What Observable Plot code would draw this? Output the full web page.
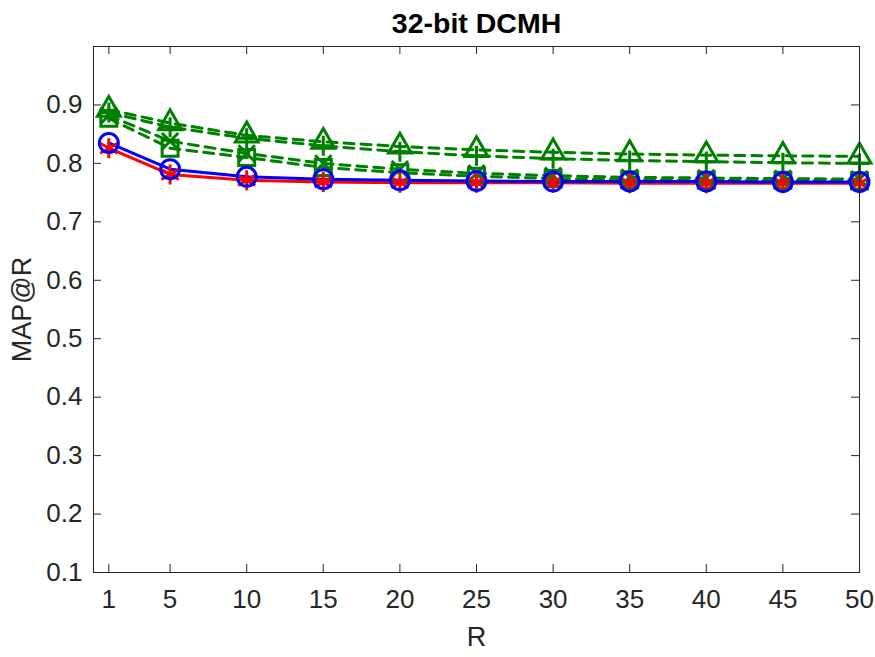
<!DOCTYPE html>
<html>
<head>
<meta charset="utf-8">
<script src="https://cdn.jsdelivr.net/npm/d3@7"></script>
<script src="https://cdn.jsdelivr.net/npm/@observablehq/plot@0.6"></script>
<style>
  html, body { margin: 0; padding: 0; background: #fff; }
</style>
</head>
<body>
<div id="chart"></div>
<script>
const title = "32-bit DCMH";
const xLabel = "R";
const yLabel = "MAP@R";
const R = [1, 5, 10, 15, 20, 25, 30, 35, 40, 45, 50];
const xTicks = [1, 5, 10, 15, 20, 25, 30, 35, 40, 45, 50];
const yTicks = [0.1, 0.2, 0.3, 0.4, 0.5, 0.6, 0.7, 0.8, 0.9];

const redStar    = [0.826, 0.781, 0.771, 0.768, 0.767, 0.767, 0.767, 0.766, 0.766, 0.766, 0.766];
const blueCircle = [0.835, 0.790, 0.777, 0.773, 0.771, 0.770, 0.769, 0.769, 0.769, 0.768, 0.768];
const greenTri   = [0.892, 0.869, 0.848, 0.837, 0.829, 0.823, 0.819, 0.816, 0.814, 0.813, 0.812];
const greenPlus  = [0.887, 0.862, 0.843, 0.830, 0.820, 0.813, 0.808, 0.805, 0.803, 0.801, 0.800];
const greenTimes = [0.882, 0.838, 0.817, 0.800, 0.790, 0.783, 0.779, 0.776, 0.775, 0.774, 0.773];
const greenSq    = [0.877, 0.826, 0.810, 0.793, 0.784, 0.778, 0.774, 0.772, 0.771, 0.771, 0.770];

const series = [
  {key: "sq",    values: greenSq,    color: "#008000", symbol: "square",   r: 9,   dash: "10,7"},
  {key: "times", values: greenTimes, color: "#008000", symbol: "times",    r: 7.5, dash: "10,7"},
  {key: "plus",  values: greenPlus,  color: "#008000", symbol: "plus",     r: 6.5, dash: "10,7"},
  {key: "tri",   values: greenTri,   color: "#008000", symbol: "triangle", r: 8.5, dash: "10,7"},
  {key: "red",   values: redStar,    color: "#ff0000", symbol: "asterisk", r: 9.5, dash: null},
  {key: "blue",  values: blueCircle, color: "#0000ff", symbol: "circle",   r: 9.5, dash: null}
];

const marks = [];
// inside ticks
marks.push(Plot.ruleX(xTicks, {x: d => d, stroke: "#262626", strokeWidth: 1, insetTop: 518}));
marks.push(Plot.ruleX(xTicks, {x: d => d, stroke: "#262626", strokeWidth: 1, insetBottom: 518}));
marks.push(Plot.ruleY(yTicks, {y: d => d, stroke: "#262626", strokeWidth: 1, insetRight: 758}));
marks.push(Plot.ruleY(yTicks, {y: d => d, stroke: "#262626", strokeWidth: 1, insetLeft: 758}));

for (const s of series) {
  const rows = R.map((x, i) => ({x, y: s.values[i]}));
  marks.push(Plot.line(rows, {x: "x", y: "y", stroke: s.color, strokeWidth: 3,
    strokeDasharray: s.dash || undefined}));
}
for (const s of series) {
  const rows = R.map((x, i) => ({x, y: s.values[i]}));
  marks.push(Plot.dot(rows, {x: "x", y: "y", symbol: () => s.symbol, r: s.r,
    fill: "none", stroke: s.color, strokeWidth: 3}));
}

marks.push(Plot.frame({stroke: "#262626", strokeWidth: 1}));
marks.push(Plot.axisX({ticks: xTicks, tickSize: 0, tickPadding: 17, fontSize: 26, label: null, tickFormat: d => String(d)}));
marks.push(Plot.axisY({ticks: yTicks, tickSize: 0, tickPadding: 11, fontSize: 26, label: null, tickFormat: d => d.toFixed(1)}));
marks.push(Plot.text([xLabel], {frameAnchor: "bottom", dy: 65, textAnchor: "middle", lineAnchor: "middle",
  fontSize: 27, fill: "#262626", text: d => d}));
marks.push(Plot.text([yLabel], {frameAnchor: "left", dx: -71, rotate: -90, textAnchor: "middle", lineAnchor: "middle",
  fontSize: 27, fill: "#262626", text: d => d}));
marks.push(Plot.text([title], {frameAnchor: "top", dy: -23, textAnchor: "middle", lineAnchor: "middle",
  fontSize: 28.5, fontWeight: "bold", fill: "#000", text: d => d}));

const chart = Plot.plot({
  width: 875,
  height: 657,
  marginLeft: 93,
  marginRight: 16,
  marginTop: 46,
  marginBottom: 85,
  style: {fontFamily: "'Liberation Sans', Arial, sans-serif", color: "#262626", background: "#fff"},
  x: {domain: [0, 50]},
  y: {domain: [0.1, 1]},
  symbol: {type: "identity"},
  marks
});
document.getElementById("chart").appendChild(chart);
</script>
</body>
</html>
